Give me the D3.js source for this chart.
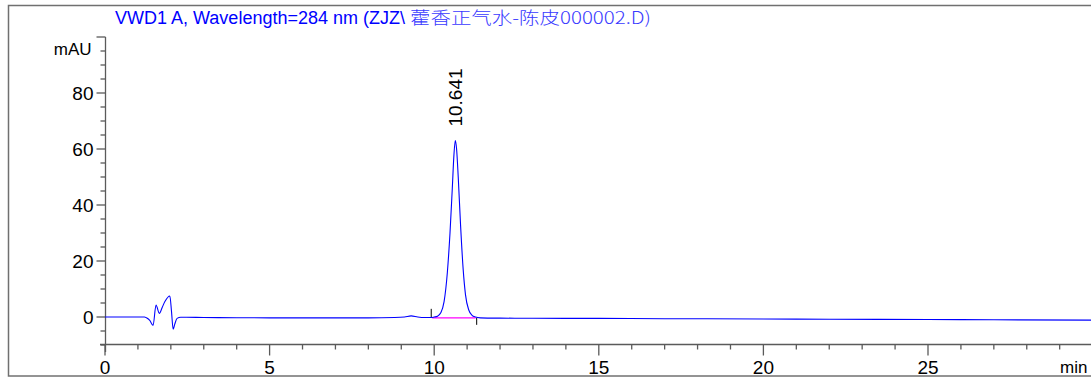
<!DOCTYPE html>
<html>
<head>
<meta charset="utf-8">
<script src="https://cdn.jsdelivr.net/npm/d3@7"></script>
<style>
  body { margin: 0; background: #fff; }
  svg { display: block; }
  .tickLabel { font-family: "Liberation Sans", Arial, sans-serif; font-size: 19px; fill: #000; }
</style>
</head>
<body>
<div id="chart"></div>
<script>
// retention time (min) and signal (mAU)
var times = [0, 0.6, 1.2, 1.26, 1.36, 1.46, 1.55, 1.65, 1.74, 1.82, 1.97, 2.02, 2.07, 2.12, 2.19, 2.3, 2.47, 3, 4, 5, 6, 7, 8, 8.8, 9.1, 9.3, 9.5, 9.7,
  9.9, 10.0, 10.1, 10.2, 10.3, 10.4, 10.48, 10.55, 10.6, 10.641, 10.68, 10.73, 10.8, 10.88, 10.95, 11.05, 11.15, 11.25, 11.4,
  12, 13, 15, 17, 20, 22, 25, 27, 30];
var signal = [0, 0, 0, -0.3, -1.2, -3, 4.3, 1.3, 3.5, 5.5, 7.5, 2, -4.4, -2.5, -0.5, -0.1, -0.1, -0.2, -0.25, -0.3, -0.3, -0.3, -0.3, -0.2, 0, 0.4, 0, -0.2,
  -0.2, 0, 0.3, 1.5, 5.5, 16, 30, 46, 58, 63, 60, 50, 33, 17, 8, 2.5, 0.6, 0, -0.3,
  -0.4, -0.45, -0.5, -0.6, -0.7, -0.8, -0.9, -1.0, -1.1];

// integration of the peak
var peakLabel = "10.641";
var peakTime = 10.641;
var peakHeight = 63;
var peakStart = 9.94, peakEnd = 11.26;
var peakBase = -0.3;

var xTicks = [0, 5, 10, 15, 20, 25];
var yTicks = [0, 20, 40, 60, 80];

var titleLatin = "VWD1 A, Wavelength=284 nm (ZJZ\\";
var titleCjk = "藿香正气水-陈皮000002.D)";

var width = 1091, height = 378;
var blue = "#0000ff", axisColor = "#5a5a5a";

var x = d3.scaleLinear().domain([0, 25]).range([105, 928]);
var y = d3.scaleLinear().domain([-10, 100]).range([345, 37]);

var svg = d3.select("#chart").append("svg")
  .attr("width", width)
  .attr("height", height);

// outer frame
svg.append("rect")
  .attr("x", 8.5).attr("y", 5.5)
  .attr("width", 1100).attr("height", 370.5)
  .attr("fill", "none")
  .attr("stroke", "#707070")
  .attr("stroke-width", 1.5);

// title
svg.append("text")
  .attr("x", 115).attr("y", 24)
  .attr("textLength", 290).attr("lengthAdjust", "spacingAndGlyphs")
  .style("font-family", "Liberation Sans, Arial, sans-serif")
  .style("font-size", "18px")
  .attr("fill", blue)
  .text(titleLatin);

svg.append("text")
  .attr("x", 410).attr("y", 24)
  .attr("textLength", 241).attr("lengthAdjust", "spacingAndGlyphs")
  .style("font-family", "Noto Sans CJK SC, sans-serif")
  .style("font-size", "17px")
  .style("font-weight", "300")
  .attr("fill", "#3a3aff")
  .text(titleCjk);

// x axis
var xAxis = svg.append("g").attr("transform", "translate(0,344.5)");
xAxis.append("line")
  .attr("x1", 100).attr("x2", width + 10)
  .attr("stroke", axisColor).attr("stroke-width", 1.3);

var minorX = d3.range(0, 31, 1);
xAxis.selectAll(".minor")
  .data(minorX)
  .enter().append("line")
  .attr("x1", function(d) { return x(d); })
  .attr("x2", function(d) { return x(d); })
  .attr("y1", 0)
  .attr("y2", function(d) { return d % 5 == 0 ? 11 : 5; })
  .attr("stroke", axisColor).attr("stroke-width", 1.3);

xAxis.selectAll(".tickLabel")
  .data(xTicks)
  .enter().append("text")
  .attr("class", "tickLabel")
  .attr("x", function(d) { return x(d); })
  .attr("y", 29)
  .attr("text-anchor", "middle")
  .text(function(d) { return d; });

// unit label, tucked into the corner so it stays inside the picture
xAxis.append("text")
  .attr("class", "tickLabel")
  .style("font-size", "17px")
  .attr("x", 1060).attr("y", 28)
  .text("min");

// y axis
var yAxis = svg.append("g").attr("transform", "translate(105.5,0)");
yAxis.append("line")
  .attr("y1", y(100)).attr("y2", 352)
  .attr("stroke", axisColor).attr("stroke-width", 1.3);

var minorY = d3.range(-10, 101, 5);
yAxis.selectAll(".minor")
  .data(minorY)
  .enter().append("line")
  .attr("y1", function(d) { return y(d); })
  .attr("y2", function(d) { return y(d); })
  .attr("x1", function(d) { return d % 20 == 0 ? -9 : -5; })
  .attr("x2", 0)
  .attr("stroke", axisColor).attr("stroke-width", 1.3);

yAxis.selectAll(".tickLabel")
  .data(yTicks)
  .enter().append("text")
  .attr("class", "tickLabel")
  .attr("x", -12)
  .attr("y", function(d) { return y(d) + 7; })
  .attr("text-anchor", "end")
  .text(function(d) { return d; });

yAxis.append("text")
  .attr("class", "tickLabel")
  .style("font-size", "17px")
  .attr("x", -14).attr("y", 55)
  .attr("text-anchor", "end")
  .text("mAU");

// integration baseline and markers
svg.append("line")
  .attr("x1", x(peakStart)).attr("x2", x(peakEnd))
  .attr("y1", y(peakBase)).attr("y2", y(peakBase))
  .attr("stroke", "#ff00ff").attr("stroke-width", 1.3);

svg.append("line")
  .attr("x1", x(peakStart) - 1).attr("x2", x(peakStart) - 1)
  .attr("y1", y(peakBase) - 9).attr("y2", y(peakBase))
  .attr("stroke", "#000").attr("stroke-width", 1);

svg.append("line")
  .attr("x1", x(peakEnd) + 1).attr("x2", x(peakEnd) + 1)
  .attr("y1", y(peakBase)).attr("y2", y(peakBase) + 7)
  .attr("stroke", "#000").attr("stroke-width", 1);

// signal trace
var points = times.map(function(t, i) { return [t, signal[i]]; });

var valueline = d3.line()
  .x(function(d) { return x(d[0]); })
  .y(function(d) { return y(d[1]); })
  .curve(d3.curveMonotoneX);

svg.append("path")
  .datum(points)
  .attr("d", valueline)
  .attr("fill", "none")
  .attr("stroke", blue)
  .attr("stroke-width", 1.1);

// peak label
svg.append("text")
  .attr("class", "tickLabel")
  .attr("transform", "translate(" + (x(peakTime) + 7) + "," + (y(peakHeight) - 14) + ") rotate(-90)")
  .text(peakLabel);
</script>
</body>
</html>
